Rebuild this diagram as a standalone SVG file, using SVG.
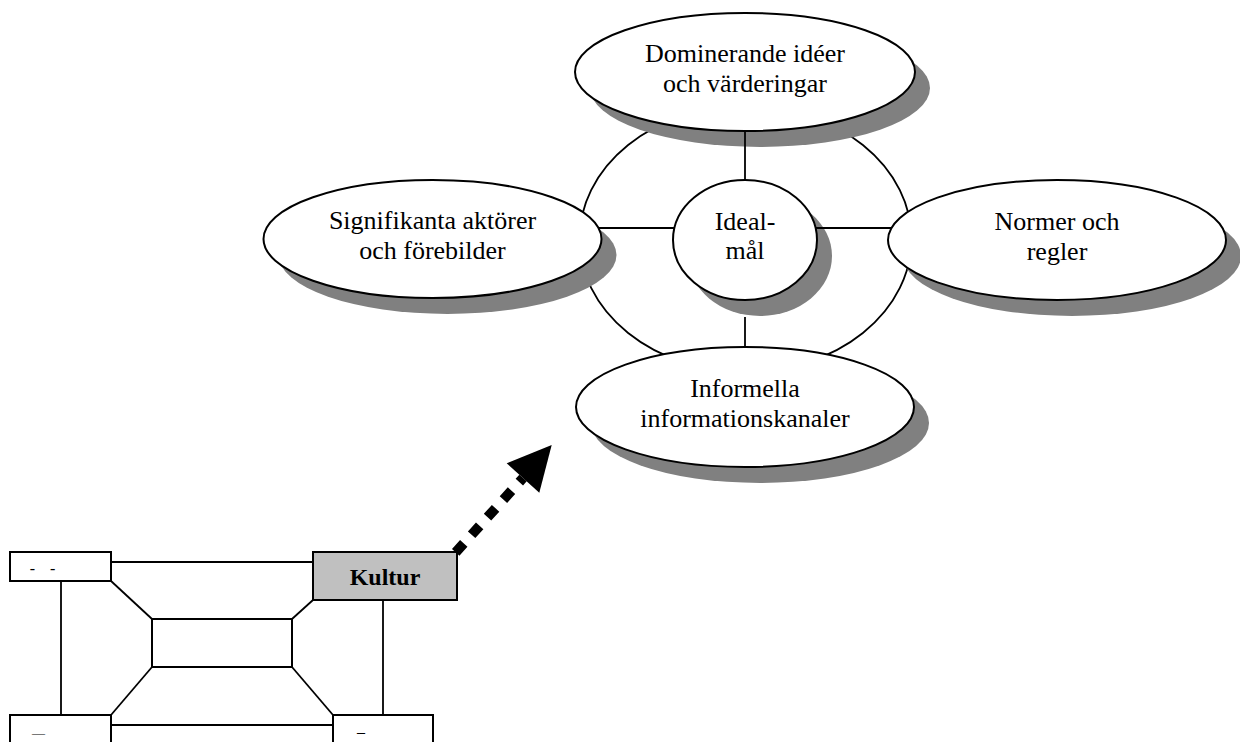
<svg xmlns="http://www.w3.org/2000/svg" width="1240" height="742" viewBox="0 0 1240 742">
  <style>
    .shadow { fill: #808080; stroke: none; }
    .oval { fill: #ffffff; stroke: #000000; stroke-width: 2; }
    .label { font-family: "Liberation Serif", "Times New Roman", serif; font-size: 26px; fill: #000000; text-anchor: middle; }
    .line { stroke: #000000; stroke-width: 1.8; fill: none; }
    .box { fill: #ffffff; stroke: #000000; stroke-width: 2; }
    .box-hl { fill: #c0c0c0; stroke: #000000; stroke-width: 2; }
    .mark { font-family: "Liberation Serif", "Times New Roman", serif; fill: #000000; }
  </style>

  <rect x="0" y="0" width="1240" height="742" fill="#ffffff"/>

  <!-- outer ring tying the four aspects together -->
  <g id="ring">
    <ellipse cx="745.5" cy="239" rx="166" ry="133" fill="none" stroke="#000000" stroke-width="1.8"/>
  </g>

  <!-- culture aspects -->
  <g id="node-dominerande">
    <ellipse class="shadow" cx="760" cy="88" rx="170" ry="59"/>
    <ellipse class="oval" cx="745" cy="72" rx="170" ry="59"/>
    <text class="label" x="745" y="62">Dominerande idéer</text>
    <text class="label" x="745" y="92">och värderingar</text>
  </g>

  <g id="node-signifikanta">
    <ellipse class="shadow" cx="447.5" cy="255" rx="169" ry="59"/>
    <ellipse class="oval" cx="432.5" cy="239" rx="169" ry="59"/>
    <text class="label" x="432.5" y="229">Signifikanta aktörer</text>
    <text class="label" x="432.5" y="259">och förebilder</text>
  </g>

  <g id="node-ideal">
    <ellipse class="shadow" cx="760" cy="256" rx="72" ry="60"/>
    <ellipse class="oval" cx="745" cy="240" rx="72" ry="60"/>
    <text class="label" x="745" y="229.5">Ideal-</text>
    <text class="label" x="745" y="259">mål</text>
  </g>

  <g id="node-normer">
    <ellipse class="shadow" cx="1072" cy="256" rx="169" ry="60"/>
    <ellipse class="oval" cx="1057" cy="240" rx="169" ry="60"/>
    <text class="label" x="1057" y="230">Normer och</text>
    <text class="label" x="1057" y="260">regler</text>
  </g>

  <g id="node-informella">
    <ellipse class="shadow" cx="760" cy="423" rx="169" ry="60"/>
    <ellipse class="oval" cx="745" cy="407" rx="169" ry="60"/>
    <text class="label" x="745" y="397">Informella</text>
    <text class="label" x="745" y="427">informationskanaler</text>
  </g>

  <!-- small organisation model -->
  <g id="node-top-left">
    <rect class="box" x="10" y="552" width="101" height="29"/>
    <text class="mark" x="42.5" y="574" font-size="16" text-anchor="middle" word-spacing="11">- -</text>
  </g>

  <g id="node-kultur">
    <rect class="box-hl" x="313" y="552" width="144" height="48"/>
    <text x="385" y="585" font-family="Liberation Serif, Times New Roman, serif" font-size="24" font-weight="bold" text-anchor="middle">Kultur</text>
  </g>

  <g id="node-center">
    <rect class="box" x="152" y="619" width="140" height="48"/>
  </g>

  <g id="node-bottom-left">
    <rect class="box" x="10" y="715" width="101" height="40"/>
    <text class="mark" x="38.5" y="737" font-size="13" text-anchor="middle">—</text>
  </g>

  <g id="node-bottom-right">
    <rect class="box" x="333" y="715" width="100" height="40"/>
    <text class="mark" x="361" y="737" font-size="16" text-anchor="middle">–</text>
  </g>

  <g id="connectors">
    <!-- aspect links -->
    <line class="line" x1="745" y1="131" x2="745" y2="180"/>
    <line class="line" x1="745" y1="317" x2="745" y2="347"/>
    <line class="line" x1="599" y1="228" x2="674" y2="228"/>
    <line class="line" x1="816" y1="228" x2="891" y2="228"/>

    <!-- organisation model links -->
    <line class="line" x1="111" y1="562" x2="313" y2="562"/>
    <line class="line" x1="61" y1="581" x2="61" y2="715"/>
    <line class="line" x1="383" y1="600" x2="383" y2="715"/>
    <line class="line" x1="111" y1="581" x2="152" y2="619"/>
    <line class="line" x1="292" y1="619" x2="313" y2="600"/>
    <line class="line" x1="152" y1="667" x2="111" y2="715"/>
    <line class="line" x1="292" y1="667" x2="333" y2="715"/>
    <line class="line" x1="111" y1="725" x2="333" y2="725"/>

    <!-- dotted zoom arrow from Kultur -->
    <line x1="455.7" y1="552.3" x2="523" y2="478" stroke="#000000" stroke-width="10" stroke-dasharray="12 11.7"/>
    <polygon points="551.7,445 506.7,463.3 539.3,492.7" fill="#000000"/>
  </g>
</svg>
